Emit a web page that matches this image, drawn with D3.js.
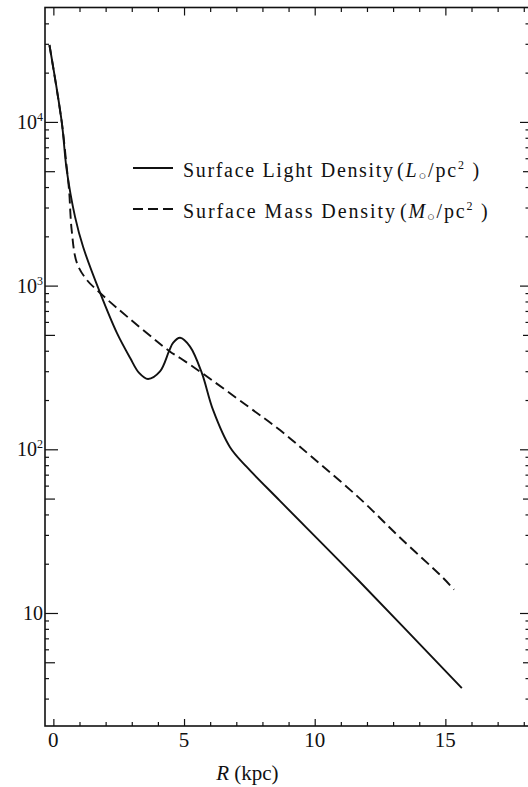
<!DOCTYPE html>
<html>
<head>
<meta charset="utf-8">
<script src="https://cdn.jsdelivr.net/npm/d3@7"></script>
<style>
  html, body { margin: 0; padding: 0; background: #fff; }
  svg { display: block; }
  svg, svg text, svg tspan { font-family: "Liberation Serif", "Times New Roman", Tinos, Times, "DejaVu Serif", "Noto Serif", serif; }
  text { fill: #111; }
</style>
</head>
<body>
<svg id="chart" width="528" height="787"></svg>
<script>
// ---- data ----
const lightR = [-0.15, 0.32, 0.51, 0.83, 1.14, 1.79, 2.43, 2.94, 3.28, 3.62, 4.08, 4.43, 4.58, 4.85, 5.23, 5.68, 6.11, 6.76, 7.40, 8.67, 11.66, 15.63];
const lightV = [29500, 10000, 5090, 2630, 1720, 902, 514, 361, 293, 269, 299, 399, 447, 480, 424, 293, 174, 103, 78, 48.4, 15.9, 3.48];

const massR = [-0.15, 0.32, 0.50, 0.60, 0.70, 0.90, 1.28, 1.79, 2.43, 4.43, 4.85, 5.68, 7.40, 8.67, 9.94, 11.74, 13.27, 14.91, 15.33];
const massV = [29500, 10000, 5500, 3850, 2190, 1377, 1084, 902, 731, 399, 361, 293, 185, 131, 88.5, 49.8, 28.8, 16.4, 13.9];

const xTickLabels = [0, 5, 10, 15];
const xMinorTicks = d3.range(0, 19, 1);
const yMajorExps = [1, 2, 3, 4];
const yMinorMults = [2, 3, 4, 6, 7, 8, 9];
const yFiveMult = [5];

const legendLabels = [
  { text: "Surface Light Density", sym: "L", dash: null },
  { text: "Surface Mass Density", sym: "M", dash: "10,5" }
];
const xTitle = { it: "R", rest: " (kpc)" };

// ---- scales ----
const svg = d3.select("#chart");
const x = d3.scaleLinear().domain([-0.32, 18.2]).range([45, 529]);
const y = d3.scaleLog().domain([2.04, 50000]).range([726, 7.5]);

const [x0, x1] = x.range();
const [yb, yt] = y.range();

const yMajor = yMajorExps.map(e => Math.pow(10, e));
const yMinor = [];
const yFive = [];
for (let e = 0; e <= 4; e++) {
  yMinorMults.forEach(m => { const v = m * Math.pow(10, e); if (v > 2.04 && v < 50000) yMinor.push(v); });
  yFiveMult.forEach(m => { const v = m * Math.pow(10, e); if (v > 2.04 && v < 50000) yFive.push(v); });
}
const xMajorT = xTickLabels;
const xMinorT = xMinorTicks.filter(v => xMajorT.indexOf(v) < 0);

function styleAxis(g) {
  g.select(".domain").remove();
  g.selectAll(".tick line").attr("stroke", "#111").attr("stroke-width", 1.2);
  g.selectAll(".tick text").remove();
}

const leftG = svg.append("g").attr("transform", `translate(${x0},0)`);
leftG.append("g").call(d3.axisLeft(y).tickValues(yMajor).tickSize(-13).tickFormat("")).call(styleAxis);
leftG.append("g").call(d3.axisLeft(y).tickValues(yFive).tickSize(-10).tickFormat("")).call(styleAxis);
leftG.append("g").call(d3.axisLeft(y).tickValues(yMinor).tickSize(-4).tickFormat("")).call(styleAxis);

const rightG = svg.append("g").attr("transform", `translate(${x1},0)`);
rightG.append("g").call(d3.axisRight(y).tickValues(yMajor).tickSize(-9).tickFormat("")).call(styleAxis);
rightG.append("g").call(d3.axisRight(y).tickValues(yFive).tickSize(-6).tickFormat("")).call(styleAxis);
rightG.append("g").call(d3.axisRight(y).tickValues(yMinor).tickSize(-3.5).tickFormat("")).call(styleAxis);

const botG = svg.append("g").attr("transform", `translate(0,${yb})`);
botG.append("g").call(d3.axisBottom(x).tickValues(xMajorT).tickSize(-7).tickFormat("")).call(styleAxis);
botG.append("g").call(d3.axisBottom(x).tickValues(xMinorT).tickSize(-4).tickFormat("")).call(styleAxis);

const topG = svg.append("g").attr("transform", `translate(0,${yt})`);
topG.append("g").call(d3.axisTop(x).tickValues(xMajorT).tickSize(-8).tickFormat("")).call(styleAxis);
topG.append("g").call(d3.axisTop(x).tickValues(xMinorT).tickSize(-4.5).tickFormat("")).call(styleAxis);

svg.append("rect")
  .attr("x", x0).attr("y", yt)
  .attr("width", x1 - x0).attr("height", yb - yt)
  .attr("fill", "none").attr("stroke", "#111").attr("stroke-width", 1.6);

// X tick labels
svg.append("g").selectAll("text").data(xTickLabels).join("text")
  .attr("x", d => x(d)).attr("y", yb + 21)
  .attr("text-anchor", "middle").attr("font-size", 21)
  .text(d => d);

// Y tick labels
const ylab = svg.append("g").selectAll("text").data(yMajorExps).join("text")
  .attr("x", x0 - 2).attr("y", d => y(Math.pow(10, d)) + 7)
  .attr("text-anchor", "end").attr("font-size", 20);
ylab.append("tspan").text("10");
ylab.filter(d => d > 1).append("tspan")
  .attr("font-size", 12).attr("dy", -8).text(d => d);

// X axis title
const xt = svg.append("text")
  .attr("x", (x(5) + x(10)) / 2 - 2).attr("y", 780)
  .attr("text-anchor", "middle").attr("font-size", 21);
xt.append("tspan").attr("font-style", "italic").text(xTitle.it);
xt.append("tspan").text(xTitle.rest);

// Curves
const line = d3.line().x(d => x(d[0])).y(d => y(d[1])).curve(d3.curveCatmullRom.alpha(0.5));
const lightData = lightR.map((r, i) => [r, lightV[i]]);
const massData = massR.map((r, i) => [r, massV[i]]);

svg.append("path").datum(lightData).attr("d", line)
  .attr("fill", "none").attr("stroke", "#111").attr("stroke-width", 1.9);
svg.append("path").datum(massData).attr("d", line)
  .attr("fill", "none").attr("stroke", "#111").attr("stroke-width", 1.9)
  .attr("stroke-dasharray", "10,5");

// Legend
const legY = [168, 209];
const legend = svg.append("g");
legendLabels.forEach((L, i) => {
  const ly = legY[i];
  legend.append("line")
    .attr("x1", 133).attr("x2", 173).attr("y1", ly).attr("y2", ly)
    .attr("stroke", "#111").attr("stroke-width", 1.9)
    .attr("stroke-dasharray", L.dash);
  legend.append("text")
    .attr("x", 183).attr("y", ly + 9)
    .attr("font-size", 20)
    .attr("textLength", i === 0 ? 210 : 212)
    .attr("lengthAdjust", "spacing")
    .text(L.text);
  const t = legend.append("text")
    .attr("x", i === 0 ? 397 : 400).attr("y", ly + 9)
    .attr("font-size", 20)
    .attr("letter-spacing", 1.8);
  t.append("tspan").text("(");
  t.append("tspan").attr("font-style", "italic").text(L.sym);
  t.append("tspan").attr("font-size", 13).attr("dy", 3).text("\u25CB");
  t.append("tspan").attr("dy", -3).text("/pc");
  t.append("tspan").attr("font-size", 12).attr("dy", -8).text("2");
  t.append("tspan").attr("dy", 8).text(" )");
});
</script>
</body>
</html>
